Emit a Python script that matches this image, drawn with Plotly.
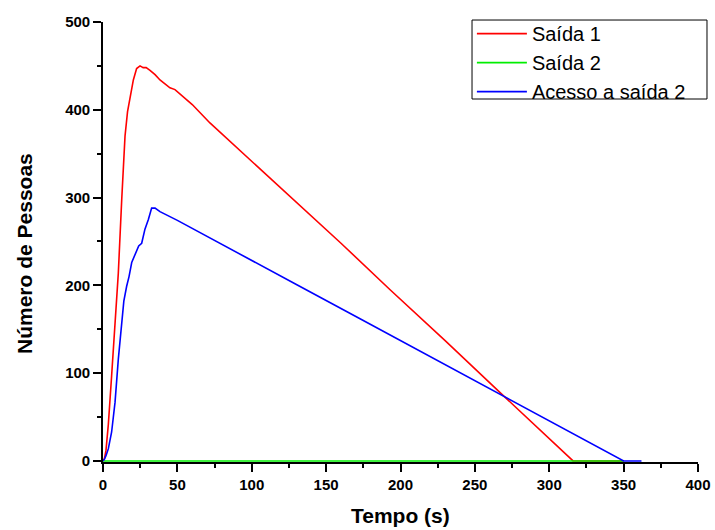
import plotly.graph_objects as go

# Saída 1 (red)
t_saida1 = [0, 1, 2, 3.6, 5.8, 8.1, 10.3, 12.6, 14.8, 16.5, 18.2, 20.4, 22.6, 24.9, 27, 29,
            31.6, 35, 38.3, 42, 45, 48.4, 53.8, 60, 71.9, 98.8, 130, 160, 193, 230, 270,
            300, 316, 350]
y_saida1 = [0, 3, 12, 42, 97, 154, 214, 298, 370, 398, 415, 434, 447, 450, 448, 448,
            445, 440, 434, 429, 425, 423, 415, 406, 385, 343, 295, 248, 195, 137, 73,
            25, 0, 0]

# Saída 2 (green)
t_saida2 = [0, 80, 160, 250, 350]
y_saida2 = [0, 0, 0, 0, 0]

# Acesso a saída 2 (blue)
t_acesso = [0, 1, 2, 3.6, 5.8, 8.1, 10.3, 12.6, 14, 15.9, 17.5, 19.3, 21, 22.6, 24, 26,
            27, 28.2, 30.5, 32.7, 35, 38.3, 50, 75, 98.8, 130, 172.8, 200, 230, 270,
            300, 330, 350, 362]
y_acesso = [0, 2, 6, 14, 33, 67, 116, 161, 182, 199, 210, 226, 233, 241, 245, 248,
            255, 264, 275, 288, 288, 284, 274, 251, 229, 201, 162, 137, 110, 73,
            45, 18, 0, 0]

x_ticks = [0, 50, 100, 150, 200, 250, 300, 350, 400]
y_ticks = [0, 100, 200, 300, 400, 500]

x_title = "Tempo (s)"
y_title = "Número de Pessoas"

FONT = "Liberation Sans, Arial, Helvetica, sans-serif"

fig = go.Figure()
fig.add_trace(go.Scatter(x=t_saida1, y=y_saida1, mode="lines", name="Saída 1",
                         line=dict(color="#ff0000", width=1.6)))
fig.add_trace(go.Scatter(x=t_saida2, y=y_saida2, mode="lines", name="Saída 2",
                         line=dict(color="#00ee00", width=1.6)))
fig.add_trace(go.Scatter(x=t_acesso, y=y_acesso, mode="lines", name="Acesso a saída 2",
                         line=dict(color="#0000ff", width=1.6)))

axis_common = dict(
    showgrid=False, zeroline=False, showline=True, linecolor="black", linewidth=1.6,
    ticks="outside", ticklen=8, tickwidth=1.6, tickcolor="black",
    tickfont=dict(family=FONT, size=15, color="black", weight="bold"),
    layer="below traces", automargin=False,
)

title_font = dict(family=FONT, size=21, color="black", weight="bold")

fig.update_layout(
    width=715, height=530,
    margin=dict(l=103, r=17, t=22, b=68, autoexpand=False),
    paper_bgcolor="white", plot_bgcolor="white",
    font=dict(family=FONT, color="black"),
    xaxis=dict(range=[0, 400], tickvals=x_ticks,
               minor=dict(ticks="outside", dtick=25, ticklen=4, tickwidth=1.6, tickcolor="black"),
               **axis_common),
    yaxis=dict(range=[-1.2, 500], tickvals=y_ticks,
               minor=dict(ticks="outside", dtick=50, ticklen=4, tickwidth=1.6, tickcolor="black"),
               **axis_common),
    legend=dict(x=0.62, y=1.018, xanchor="left", yanchor="top",
                bgcolor="rgba(0,0,0,0)", borderwidth=0,
                font=dict(family=FONT, size=20, color="black"),
                itemwidth=50, tracegroupgap=0),
    showlegend=True,
    shapes=[
        dict(type="rect", xref="paper", yref="paper",
             x0=0.6202, x1=1.0151, y0=0.825, y1=1.0045,
             line=dict(color="black", width=1), fillcolor="rgba(0,0,0,0)", layer="above"),
    ],
    annotations=[
        dict(text=x_title, xref="paper", yref="paper", x=0.5, y=-0.1227,
             xanchor="center", yanchor="middle", showarrow=False, font=title_font),
        dict(text=y_title, xref="paper", yref="paper", x=-0.1328, y=0.475,
             xanchor="center", yanchor="middle", textangle=-90, showarrow=False,
             font=title_font),
    ],
)

fig.write_html("out.html")
